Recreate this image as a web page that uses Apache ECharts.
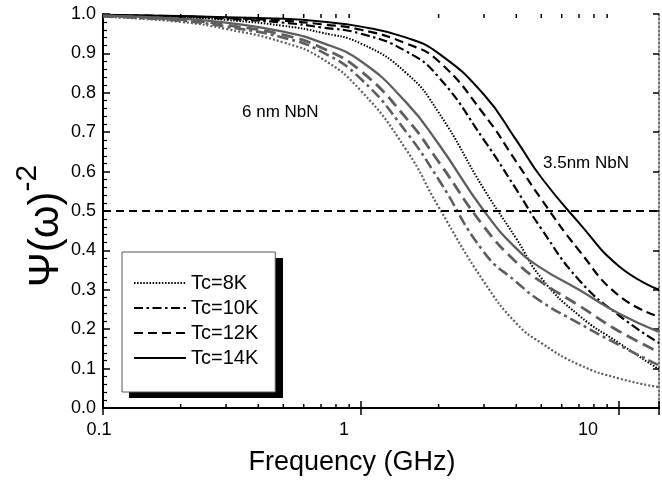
<!DOCTYPE html>
<html>
<head>
<meta charset="utf-8">
<title>Psi vs frequency</title>
<script src="https://cdn.jsdelivr.net/npm/echarts@6/dist/echarts.min.js"></script>
<style>
  html, body { margin: 0; padding: 0; background: #fff; }
  #chart { width: 662px; height: 480px; }
</style>
</head>
<body>
<div id="chart"></div>
<script>
const freq = [0.1, 0.2, 0.3, 0.5, 0.7, 1, 1.5, 2, 3, 4, 5, 7, 10, 14.3]

// 3.5 nm NbN (black)
const thin8 = [0.996, 0.992, 0.985, 0.97, 0.953, 0.925, 0.85, 0.75, 0.555, 0.43, 0.33, 0.235, 0.165, 0.098]
const thin10 = [0.997, 0.993, 0.988, 0.978, 0.966, 0.95, 0.905, 0.84, 0.68, 0.555, 0.455, 0.325, 0.235, 0.165]
const thin12 = [0.997, 0.994, 0.99, 0.983, 0.974, 0.96, 0.925, 0.88, 0.745, 0.625, 0.53, 0.4, 0.285, 0.232]
const thin14 = [0.998, 0.995, 0.992, 0.988, 0.981, 0.968, 0.94, 0.9, 0.795, 0.68, 0.585, 0.47, 0.36, 0.3]

// 6 nm NbN (gray)
const thick8 = [0.993, 0.98, 0.962, 0.928, 0.888, 0.805, 0.655, 0.51, 0.32, 0.215, 0.165, 0.11, 0.075, 0.053]
const thick10 = [0.994, 0.983, 0.968, 0.94, 0.905, 0.835, 0.7, 0.58, 0.395, 0.32, 0.27, 0.215, 0.16, 0.108]
const thick12 = [0.995, 0.986, 0.972, 0.947, 0.915, 0.855, 0.735, 0.625, 0.46, 0.37, 0.32, 0.26, 0.195, 0.142]
const thick14 = [0.996, 0.988, 0.978, 0.955, 0.928, 0.88, 0.775, 0.67, 0.5, 0.405, 0.355, 0.3, 0.24, 0.193]

const legendNames = ['Tc=8K', 'Tc=10K', 'Tc=12K', 'Tc=14K']
const xLabels = ['0.1', '1', '10']
const minorTicks = [0.2, 0.3, 0.4, 0.5, 0.6, 0.7, 0.8, 0.9, 2, 3, 4, 5, 6, 7, 8, 9]

const FONT = 'Liberation Sans, Arial, sans-serif'
const GRAY = '#5e5e5e'

const dashes = {
  dot: [1.5, 1.6],
  dashdot: [9, 3.5, 2.5, 3.5],
  dash: [9, 5],
  solid: 'solid'
}

function pairs(vals) {
  return freq.map((f, i) => [f, vals[i]])
}

function curve(name, vals, color, width, type) {
  return {
    name: name,
    type: 'line',
    data: pairs(vals),
    symbol: 'none',
    smooth: 0.5,
    z: 3,
    lineStyle: { color: color, width: width, type: type },
    itemStyle: { color: color }
  }
}

const series = [
  curve('Tc=8K', thin8, '#000', 2, dashes.dot),
  curve('Tc=10K', thin10, '#000', 2.2, dashes.dashdot),
  curve('Tc=12K', thin12, '#000', 2.2, dashes.dash),
  curve('Tc=14K', thin14, '#000', 2, dashes.solid),
  curve('6nm Tc=8K', thick8, GRAY, 2.2, [2, 2]),
  curve('6nm Tc=10K', thick10, GRAY, 2.6, [11, 4, 3, 4]),
  curve('6nm Tc=12K', thick12, GRAY, 2.8, [12, 6]),
  curve('6nm Tc=14K', thick14, GRAY, 2.3, 'solid')
]

// the 0.5 reference line
series[0].markLine = {
  silent: true,
  symbol: ['none', 'none'],
  label: { show: false },
  lineStyle: { color: '#000', width: 2, type: [8, 5] },
  data: [{ yAxis: 0.5 }]
}

// log minor ticks at 2..9 on bottom and top edges
series.push({
  type: 'custom',
  silent: true,
  z: 5,
  clip: false,
  data: minorTicks.map(v => [v, 0]),
  renderItem: function (params, api) {
    const x = api.coord([api.value(0), 0])[0]
    const r = params.coordSys
    const st = { stroke: '#000', lineWidth: 1.5 }
    return {
      type: 'group',
      children: [
        { type: 'line', shape: { x1: x, y1: r.y + r.height, x2: x, y2: r.y + r.height - 4 }, style: st },
        { type: 'line', shape: { x1: x, y1: r.y, x2: x, y2: r.y + 4 }, style: st }
      ]
    }
  }
})

const chart = echarts.init(document.getElementById('chart'), null, { renderer: 'canvas' })

chart.setOption({
  animation: false,
  backgroundColor: '#fff',
  grid: { left: 103, right: 2, top: 14, bottom: 72 },
  legend: {
    data: legendNames,
    orient: 'vertical',
    left: 122,
    top: 252,
    selectedMode: false,
    itemWidth: 52,
    itemHeight: 20,
    itemGap: 5,
    padding: [21, 17, 24, 11],
    backgroundColor: '#fff',
    borderColor: '#555',
    borderWidth: 1,
    itemStyle: { opacity: 0 },
    textStyle: { fontFamily: FONT, fontSize: 20, color: '#000', lineHeight: 20 }
  },
  xAxis: [
    {
      type: 'log',
      logBase: 10,
      min: 0.1,
      max: 14.3,
      axisLine: { lineStyle: { color: '#000', width: 2 } },
      axisTick: { inside: true, length: 7, lineStyle: { color: '#000', width: 1.5 } },
      splitLine: { show: false },
      axisLabel: {
        margin: 13,
        color: '#000',
        fontFamily: FONT,
        fontSize: 18,
        formatter: function (v) {
          const lg = Math.log10(v)
          const e = Math.round(lg)
          if (Math.abs(lg - e) > 1e-6 || e < -1 || e > 1) return ''
          return '{s' + (e + 1) + '|' + xLabels[e + 1] + '}'
        },
        rich: {
          s0: { fontFamily: FONT, fontSize: 18, color: '#000', padding: [0, 8, 0, 0] },
          s1: { fontFamily: FONT, fontSize: 18, color: '#000', padding: [0, 34, 0, 0] },
          s2: { fontFamily: FONT, fontSize: 18, color: '#000', padding: [0, 62, 0, 0] }
        }
      }
    },
    {
      type: 'log',
      logBase: 10,
      min: 0.1,
      max: 14.3,
      position: 'top',
      axisLine: { lineStyle: { color: '#000', width: 2 } },
      axisTick: { inside: true, length: 7, lineStyle: { color: '#000', width: 1.5 } },
      axisLabel: { show: false },
      splitLine: { show: false }
    }
  ],
  yAxis: [
    {
      type: 'value',
      min: 0,
      max: 1,
      interval: 0.1,
      axisLine: { show: true, lineStyle: { color: '#000', width: 2 } },
      axisTick: { show: true, inside: true, length: 7, lineStyle: { color: '#000', width: 1.5 } },
      minorTick: { show: true, splitNumber: 5, length: 4, lineStyle: { color: '#000', width: 1.2 } },
      splitLine: { show: false },
      axisLabel: {
        margin: 7,
        color: '#000',
        fontFamily: FONT,
        fontSize: 18,
        formatter: v => v.toFixed(1)
      }
    },
    {
      type: 'value',
      min: 0,
      max: 1,
      interval: 0.1,
      position: 'right',
      axisLine: { show: true, lineStyle: { color: '#444', width: 1.5, type: [2, 2] } },
      axisTick: { show: true, inside: true, length: 6, lineStyle: { color: '#000', width: 1.5 } },
      axisLabel: { show: false },
      splitLine: { show: false }
    }
  ],
  graphic: [
    {
      type: 'rect',
      z: 3,
      shape: { x: 129, y: 258, width: 154, height: 140 },
      style: { fill: '#000' }
    },
    {
      type: 'text',
      x: 352,
      y: 463,
      style: { text: 'Frequency (GHz)', font: '27px ' + FONT, fill: '#000', align: 'center', verticalAlign: 'middle' }
    },
    {
      type: 'text',
      x: 40,
      y: 226,
      rotation: Math.PI / 2,
      style: {
        text: '{a|Ψ(ω)}{b|-2}',
        align: 'center',
        verticalAlign: 'middle',
        fill: '#000',
        rich: {
          a: { fontFamily: FONT, fontSize: 42, color: '#000', lineHeight: 54, verticalAlign: 'bottom' },
          b: { fontFamily: FONT, fontSize: 30, color: '#000', lineHeight: 54, verticalAlign: 'top' }
        }
      }
    },
    {
      type: 'text',
      x: 242,
      y: 112,
      style: { text: '6 nm NbN', font: '17px ' + FONT, fill: '#000', verticalAlign: 'middle' }
    },
    {
      type: 'text',
      x: 543,
      y: 163,
      style: { text: '3.5nm NbN', font: '17px ' + FONT, fill: '#000', verticalAlign: 'middle' }
    }
  ],
  series: series
})
</script>
</body>
</html>
